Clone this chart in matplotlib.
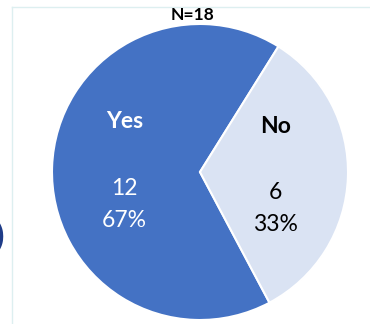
import matplotlib.pyplot as plt
from matplotlib.lines import Line2D

labels = ["Yes", "No"]
counts = [12, 6]
colors = ["#4472C4", "#DAE3F3"]
label_colors = ["white", "black"]
total = sum(counts)

plt.rcParams["font.family"] = ["Lato", "DejaVu Sans"]

fig = plt.figure(figsize=(3.70, 3.24), dpi=100)
fig.patch.set_facecolor("white")

# frame lines of the chart area
fig.add_artist(Line2D([12 / 370, 12 / 370], [0, 1 - 7 / 324], color="#DDEFF0", lw=1))
fig.add_artist(Line2D([12 / 370, 1], [1 - 7 / 324, 1 - 7 / 324], color="#DDEFF0", lw=1))

# bit of neighbouring content on the left
fig.text(-0.014, 1 - 236 / 324, ")", color="#1F3C88", fontsize=22, fontweight="bold",
         va="center", ha="left")

ax = fig.add_axes([52 / 370, 4 / 324, 296 / 370, 296 / 324])
wedges, _ = ax.pie(counts, colors=colors, startangle=58, counterclock=True,
                   wedgeprops=dict(edgecolor="white", linewidth=1.5))
ax.set_xlim(-1, 1)
ax.set_ylim(-1, 1)
ax.set_aspect("equal")
ax.axis("off")

# data labels placed inside each slice
label_pos = [(-0.51, 0.34), (0.51, 0.31)]
for (x, y), name, n, c in zip(label_pos, labels, counts, label_colors):
    pct = round(100 * n / total)
    ax.text(x, y, name, color=c, fontsize=16.5, fontweight="bold", ha="center", va="center")
    ax.text(x, y - 0.45, str(n), color=c, fontsize=16.5, ha="center", va="center")
    ax.text(x, y - 0.665, f"{pct}%", color=c, fontsize=16.5, ha="center", va="center")

fig.text(193 / 370, 1 - 15 / 324, f"N={total}", fontsize=12.5, fontweight="bold",
         ha="center", va="center")

fig.savefig("out.png", dpi=100)
